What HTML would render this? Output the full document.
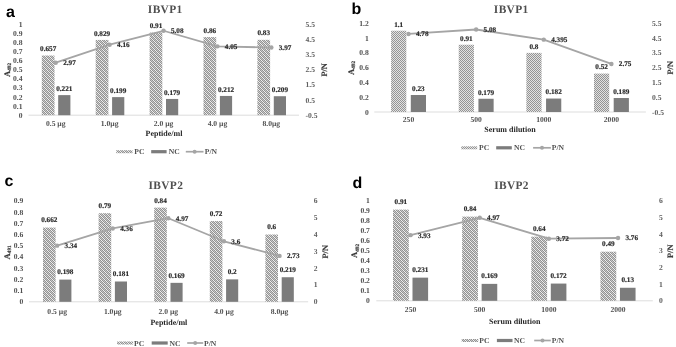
<!DOCTYPE html>
<html><head><meta charset="utf-8"><style>
html,body{margin:0;padding:0;background:#fff;width:676px;height:347px;overflow:hidden}
svg{display:block}
</style></head><body>
<svg width="676" height="347" viewBox="0 0 676 347" font-family="Liberation Serif" text-rendering="geometricPrecision">
<defs>
<pattern id="hatch" patternUnits="userSpaceOnUse" width="4" height="4"><rect x="0" y="0" width="1" height="1" fill="#939393"/><rect x="1" y="0" width="1" height="1" fill="#f0f0f0"/><rect x="2" y="0" width="1" height="1" fill="#939393"/><rect x="3" y="0" width="1" height="1" fill="#c8c8c8"/><rect x="0" y="1" width="1" height="1" fill="#c8c8c8"/><rect x="1" y="1" width="1" height="1" fill="#939393"/><rect x="2" y="1" width="1" height="1" fill="#f0f0f0"/><rect x="3" y="1" width="1" height="1" fill="#939393"/><rect x="0" y="2" width="1" height="1" fill="#939393"/><rect x="1" y="2" width="1" height="1" fill="#c8c8c8"/><rect x="2" y="2" width="1" height="1" fill="#939393"/><rect x="3" y="2" width="1" height="1" fill="#f0f0f0"/><rect x="0" y="3" width="1" height="1" fill="#f0f0f0"/><rect x="1" y="3" width="1" height="1" fill="#939393"/><rect x="2" y="3" width="1" height="1" fill="#c8c8c8"/><rect x="3" y="3" width="1" height="1" fill="#939393"/></pattern>
<filter id="soft" filterUnits="userSpaceOnUse" x="0" y="0" width="676" height="347"><feGaussianBlur stdDeviation="0.4"/></filter>
<pattern id="hatchT" patternUnits="userSpaceOnUse" width="2" height="2"><rect width="2" height="2" fill="#e2e2e2"/><rect x="0" y="0" width="1" height="1" fill="#949494"/><rect x="1" y="1" width="1" height="1" fill="#949494"/></pattern>
</defs>
<rect width="676" height="347" fill="#fff"/>
<g filter="url(#soft)">
<line x1="28.5" y1="115.20" x2="299" y2="115.20" stroke="#d9d9d9" stroke-width="0.9"/>
<text x="22.50" y="117.71" font-size="7.6" text-anchor="end" font-weight="bold" fill="#505050" font-family="Liberation Serif" >0</text>
<text x="22.50" y="108.63" font-size="7.6" text-anchor="end" font-weight="bold" fill="#505050" font-family="Liberation Serif" >0.1</text>
<text x="22.50" y="99.55" font-size="7.6" text-anchor="end" font-weight="bold" fill="#505050" font-family="Liberation Serif" >0.2</text>
<text x="22.50" y="90.47" font-size="7.6" text-anchor="end" font-weight="bold" fill="#505050" font-family="Liberation Serif" >0.3</text>
<text x="22.50" y="81.39" font-size="7.6" text-anchor="end" font-weight="bold" fill="#505050" font-family="Liberation Serif" >0.4</text>
<text x="22.50" y="72.31" font-size="7.6" text-anchor="end" font-weight="bold" fill="#505050" font-family="Liberation Serif" >0.5</text>
<text x="22.50" y="63.23" font-size="7.6" text-anchor="end" font-weight="bold" fill="#505050" font-family="Liberation Serif" >0.6</text>
<text x="22.50" y="54.15" font-size="7.6" text-anchor="end" font-weight="bold" fill="#505050" font-family="Liberation Serif" >0.7</text>
<text x="22.50" y="45.07" font-size="7.6" text-anchor="end" font-weight="bold" fill="#505050" font-family="Liberation Serif" >0.8</text>
<text x="22.50" y="35.99" font-size="7.6" text-anchor="end" font-weight="bold" fill="#505050" font-family="Liberation Serif" >0.9</text>
<text x="22.50" y="26.91" font-size="7.6" text-anchor="end" font-weight="bold" fill="#505050" font-family="Liberation Serif" >1</text>
<text x="305.50" y="117.71" font-size="7.6" text-anchor="start" font-weight="bold" fill="#606060" font-family="Liberation Serif" >-0.5</text>
<text x="305.50" y="102.57" font-size="7.6" text-anchor="start" font-weight="bold" fill="#606060" font-family="Liberation Serif" >0.5</text>
<text x="305.50" y="87.44" font-size="7.6" text-anchor="start" font-weight="bold" fill="#606060" font-family="Liberation Serif" >1.5</text>
<text x="305.50" y="72.31" font-size="7.6" text-anchor="start" font-weight="bold" fill="#606060" font-family="Liberation Serif" >2.5</text>
<text x="305.50" y="57.17" font-size="7.6" text-anchor="start" font-weight="bold" fill="#606060" font-family="Liberation Serif" >3.5</text>
<text x="305.50" y="42.04" font-size="7.6" text-anchor="start" font-weight="bold" fill="#606060" font-family="Liberation Serif" >4.5</text>
<text x="305.50" y="26.91" font-size="7.6" text-anchor="start" font-weight="bold" fill="#606060" font-family="Liberation Serif" >5.5</text>
<rect x="41.80" y="55.54" width="12.7" height="59.66" fill="url(#hatch)"/>
<rect x="58.20" y="95.13" width="12.2" height="20.07" fill="#7b7b7b"/>
<text x="48.15" y="51.12" font-size="7.2" text-anchor="middle" font-weight="bold" fill="#2b2b2b" font-family="Liberation Serif" stroke="#2b2b2b" stroke-width="0.18">0.657</text>
<text x="64.30" y="90.71" font-size="7.2" text-anchor="middle" font-weight="bold" fill="#2b2b2b" font-family="Liberation Serif" stroke="#2b2b2b" stroke-width="0.18">0.221</text>
<text x="55.75" y="126.01" font-size="7.6" text-anchor="middle" font-weight="bold" fill="#505050" font-family="Liberation Serif" >0.5 µg</text>
<rect x="95.70" y="39.93" width="12.7" height="75.27" fill="url(#hatch)"/>
<rect x="112.10" y="97.13" width="12.2" height="18.07" fill="#7b7b7b"/>
<text x="102.05" y="35.50" font-size="7.2" text-anchor="middle" font-weight="bold" fill="#2b2b2b" font-family="Liberation Serif" stroke="#2b2b2b" stroke-width="0.18">0.829</text>
<text x="118.20" y="92.71" font-size="7.2" text-anchor="middle" font-weight="bold" fill="#2b2b2b" font-family="Liberation Serif" stroke="#2b2b2b" stroke-width="0.18">0.199</text>
<text x="109.65" y="126.01" font-size="7.6" text-anchor="middle" font-weight="bold" fill="#505050" font-family="Liberation Serif" >1.0µg</text>
<rect x="149.60" y="32.57" width="12.7" height="82.63" fill="url(#hatch)"/>
<rect x="166.00" y="98.95" width="12.2" height="16.25" fill="#7b7b7b"/>
<text x="155.95" y="28.15" font-size="7.2" text-anchor="middle" font-weight="bold" fill="#2b2b2b" font-family="Liberation Serif" stroke="#2b2b2b" stroke-width="0.18">0.91</text>
<text x="172.10" y="94.52" font-size="7.2" text-anchor="middle" font-weight="bold" fill="#2b2b2b" font-family="Liberation Serif" stroke="#2b2b2b" stroke-width="0.18">0.179</text>
<text x="163.55" y="126.01" font-size="7.6" text-anchor="middle" font-weight="bold" fill="#505050" font-family="Liberation Serif" >2.0 µg</text>
<rect x="203.50" y="37.11" width="12.7" height="78.09" fill="url(#hatch)"/>
<rect x="219.90" y="95.95" width="12.2" height="19.25" fill="#7b7b7b"/>
<text x="209.85" y="32.69" font-size="7.2" text-anchor="middle" font-weight="bold" fill="#2b2b2b" font-family="Liberation Serif" stroke="#2b2b2b" stroke-width="0.18">0.86</text>
<text x="226.00" y="91.53" font-size="7.2" text-anchor="middle" font-weight="bold" fill="#2b2b2b" font-family="Liberation Serif" stroke="#2b2b2b" stroke-width="0.18">0.212</text>
<text x="217.45" y="126.01" font-size="7.6" text-anchor="middle" font-weight="bold" fill="#505050" font-family="Liberation Serif" >4.0 µg</text>
<rect x="257.40" y="39.84" width="12.7" height="75.36" fill="url(#hatch)"/>
<rect x="273.80" y="96.22" width="12.2" height="18.98" fill="#7b7b7b"/>
<text x="263.75" y="35.41" font-size="7.2" text-anchor="middle" font-weight="bold" fill="#2b2b2b" font-family="Liberation Serif" stroke="#2b2b2b" stroke-width="0.18">0.83</text>
<text x="279.90" y="91.80" font-size="7.2" text-anchor="middle" font-weight="bold" fill="#2b2b2b" font-family="Liberation Serif" stroke="#2b2b2b" stroke-width="0.18">0.209</text>
<text x="271.35" y="126.01" font-size="7.6" text-anchor="middle" font-weight="bold" fill="#505050" font-family="Liberation Serif" >8.0µg</text>
<polyline points="55.75,62.69 109.65,44.68 163.55,30.76 217.45,46.34 271.35,47.55" fill="none" stroke="#a5a5a5" stroke-width="1.8" stroke-linejoin="round"/>
<circle cx="55.75" cy="62.69" r="2.2" fill="#a5a5a5"/>
<text x="63.15" y="65.06" font-size="7.2" text-anchor="start" font-weight="bold" fill="#2b2b2b" font-family="Liberation Serif" stroke="#2b2b2b" stroke-width="0.18">2.97</text>
<circle cx="109.65" cy="44.68" r="2.2" fill="#a5a5a5"/>
<text x="117.05" y="47.05" font-size="7.2" text-anchor="start" font-weight="bold" fill="#2b2b2b" font-family="Liberation Serif" stroke="#2b2b2b" stroke-width="0.18">4.16</text>
<circle cx="163.55" cy="30.76" r="2.2" fill="#a5a5a5"/>
<text x="170.95" y="33.13" font-size="7.2" text-anchor="start" font-weight="bold" fill="#2b2b2b" font-family="Liberation Serif" stroke="#2b2b2b" stroke-width="0.18">5.08</text>
<circle cx="217.45" cy="46.34" r="2.2" fill="#a5a5a5"/>
<text x="224.85" y="48.72" font-size="7.2" text-anchor="start" font-weight="bold" fill="#2b2b2b" font-family="Liberation Serif" stroke="#2b2b2b" stroke-width="0.18">4.05</text>
<circle cx="271.35" cy="47.55" r="2.2" fill="#a5a5a5"/>
<text x="278.75" y="49.93" font-size="7.2" text-anchor="start" font-weight="bold" fill="#2b2b2b" font-family="Liberation Serif" stroke="#2b2b2b" stroke-width="0.18">3.97</text>
<text x="165.2" y="13.1" font-size="11.4" text-anchor="middle" font-weight="bold" fill="#505050" letter-spacing="0.35" font-family="Liberation Serif">IBVP1</text>
<text x="6" y="16.7" font-size="16" font-weight="bold" fill="#000" font-family="Liberation Sans">a</text>
<g transform="translate(7,70) rotate(-90)"><text x="0" y="2.8" font-size="8.6" font-weight="bold" fill="#3c3c3c" stroke="#3c3c3c" stroke-width="0.2" text-anchor="middle" font-family="Liberation Serif">A<tspan font-size="5.2" dy="1.2">492</tspan></text></g>
<g transform="translate(324.4,69.9) rotate(-90)"><text x="0" y="2.9" font-size="8.3" font-weight="bold" fill="#3c3c3c" stroke="#3c3c3c" stroke-width="0.15" text-anchor="middle" font-family="Liberation Serif">P/N</text></g>
<text x="164.00" y="135.64" font-size="8.0" text-anchor="middle" font-weight="bold" fill="#262626" font-family="Liberation Serif" >Peptide/ml</text>
<rect x="116.2" y="150.20" width="16.30" height="3" fill="url(#hatch)"/>
<text x="134.30" y="154.21" font-size="7.6" text-anchor="start" font-weight="bold" fill="#505050" font-family="Liberation Serif" >PC</text>
<rect x="151.2" y="150.10" width="15.40" height="3.2" fill="#7b7b7b"/>
<text x="168.80" y="154.21" font-size="7.6" text-anchor="start" font-weight="bold" fill="#505050" font-family="Liberation Serif" >NC</text>
<line x1="185.8" y1="151.70" x2="203.5" y2="151.70" stroke="#a5a5a5" stroke-width="1.7"/>
<circle cx="194.65" cy="151.70" r="2" fill="#a5a5a5"/>
<text x="204.80" y="154.21" font-size="7.6" text-anchor="start" font-weight="bold" fill="#505050" font-family="Liberation Serif" >P/N</text>
<line x1="374.3" y1="112.00" x2="645.9" y2="112.00" stroke="#d9d9d9" stroke-width="0.9"/>
<text x="368.70" y="114.51" font-size="7.6" text-anchor="end" font-weight="bold" fill="#505050" font-family="Liberation Serif" >0</text>
<text x="368.70" y="99.73" font-size="7.6" text-anchor="end" font-weight="bold" fill="#505050" font-family="Liberation Serif" >0.2</text>
<text x="368.70" y="84.95" font-size="7.6" text-anchor="end" font-weight="bold" fill="#505050" font-family="Liberation Serif" >0.4</text>
<text x="368.70" y="70.17" font-size="7.6" text-anchor="end" font-weight="bold" fill="#505050" font-family="Liberation Serif" >0.6</text>
<text x="368.70" y="55.39" font-size="7.6" text-anchor="end" font-weight="bold" fill="#505050" font-family="Liberation Serif" >0.8</text>
<text x="368.70" y="40.61" font-size="7.6" text-anchor="end" font-weight="bold" fill="#505050" font-family="Liberation Serif" >1</text>
<text x="368.70" y="25.83" font-size="7.6" text-anchor="end" font-weight="bold" fill="#505050" font-family="Liberation Serif" >1.2</text>
<text x="652.00" y="114.51" font-size="7.6" text-anchor="start" font-weight="bold" fill="#606060" font-family="Liberation Serif" >-0.5</text>
<text x="652.00" y="99.72" font-size="7.6" text-anchor="start" font-weight="bold" fill="#606060" font-family="Liberation Serif" >0.5</text>
<text x="652.00" y="84.94" font-size="7.6" text-anchor="start" font-weight="bold" fill="#606060" font-family="Liberation Serif" >1.5</text>
<text x="652.00" y="70.16" font-size="7.6" text-anchor="start" font-weight="bold" fill="#606060" font-family="Liberation Serif" >2.5</text>
<text x="652.00" y="55.37" font-size="7.6" text-anchor="start" font-weight="bold" fill="#606060" font-family="Liberation Serif" >3.5</text>
<text x="652.00" y="40.59" font-size="7.6" text-anchor="start" font-weight="bold" fill="#606060" font-family="Liberation Serif" >4.5</text>
<text x="652.00" y="25.81" font-size="7.6" text-anchor="start" font-weight="bold" fill="#606060" font-family="Liberation Serif" >5.5</text>
<rect x="391.10" y="30.71" width="15.2" height="81.29" fill="url(#hatchT)"/>
<rect x="410.80" y="95.00" width="15.2" height="17.00" fill="#7b7b7b"/>
<text x="398.70" y="26.59" font-size="7.2" text-anchor="middle" font-weight="bold" fill="#2b2b2b" font-family="Liberation Serif" stroke="#2b2b2b" stroke-width="0.18">1.1</text>
<text x="418.40" y="90.88" font-size="7.2" text-anchor="middle" font-weight="bold" fill="#2b2b2b" font-family="Liberation Serif" stroke="#2b2b2b" stroke-width="0.18">0.23</text>
<text x="408.51" y="122.01" font-size="7.6" text-anchor="middle" font-weight="bold" fill="#505050" font-family="Liberation Serif" >250</text>
<rect x="458.73" y="44.75" width="15.2" height="67.25" fill="url(#hatchT)"/>
<rect x="478.43" y="98.77" width="15.2" height="13.23" fill="#7b7b7b"/>
<text x="466.33" y="40.63" font-size="7.2" text-anchor="middle" font-weight="bold" fill="#2b2b2b" font-family="Liberation Serif" stroke="#2b2b2b" stroke-width="0.18">0.91</text>
<text x="486.03" y="94.65" font-size="7.2" text-anchor="middle" font-weight="bold" fill="#2b2b2b" font-family="Liberation Serif" stroke="#2b2b2b" stroke-width="0.18">0.179</text>
<text x="476.14" y="122.01" font-size="7.6" text-anchor="middle" font-weight="bold" fill="#505050" font-family="Liberation Serif" >500</text>
<rect x="526.36" y="52.88" width="15.2" height="59.12" fill="url(#hatchT)"/>
<rect x="546.06" y="98.55" width="15.2" height="13.45" fill="#7b7b7b"/>
<text x="533.96" y="48.76" font-size="7.2" text-anchor="middle" font-weight="bold" fill="#2b2b2b" font-family="Liberation Serif" stroke="#2b2b2b" stroke-width="0.18">0.8</text>
<text x="553.66" y="94.43" font-size="7.2" text-anchor="middle" font-weight="bold" fill="#2b2b2b" font-family="Liberation Serif" stroke="#2b2b2b" stroke-width="0.18">0.182</text>
<text x="543.77" y="122.01" font-size="7.6" text-anchor="middle" font-weight="bold" fill="#505050" font-family="Liberation Serif" >1000</text>
<rect x="593.99" y="73.57" width="15.2" height="38.43" fill="url(#hatchT)"/>
<rect x="613.69" y="98.03" width="15.2" height="13.97" fill="#7b7b7b"/>
<text x="601.59" y="69.45" font-size="7.2" text-anchor="middle" font-weight="bold" fill="#2b2b2b" font-family="Liberation Serif" stroke="#2b2b2b" stroke-width="0.18">0.52</text>
<text x="621.29" y="93.91" font-size="7.2" text-anchor="middle" font-weight="bold" fill="#2b2b2b" font-family="Liberation Serif" stroke="#2b2b2b" stroke-width="0.18">0.189</text>
<text x="611.40" y="122.01" font-size="7.6" text-anchor="middle" font-weight="bold" fill="#505050" font-family="Liberation Serif" >2000</text>
<polyline points="408.51,33.94 476.14,29.51 543.77,39.64 611.40,63.95" fill="none" stroke="#a5a5a5" stroke-width="1.8" stroke-linejoin="round"/>
<circle cx="408.51" cy="33.94" r="2.2" fill="#a5a5a5"/>
<text x="415.91" y="36.32" font-size="7.2" text-anchor="start" font-weight="bold" fill="#2b2b2b" font-family="Liberation Serif" stroke="#2b2b2b" stroke-width="0.18">4.78</text>
<circle cx="476.14" cy="29.51" r="2.2" fill="#a5a5a5"/>
<text x="483.54" y="31.89" font-size="7.2" text-anchor="start" font-weight="bold" fill="#2b2b2b" font-family="Liberation Serif" stroke="#2b2b2b" stroke-width="0.18">5.08</text>
<circle cx="543.77" cy="39.64" r="2.2" fill="#a5a5a5"/>
<text x="551.17" y="42.01" font-size="7.2" text-anchor="start" font-weight="bold" fill="#2b2b2b" font-family="Liberation Serif" stroke="#2b2b2b" stroke-width="0.18">4.395</text>
<circle cx="611.40" cy="63.95" r="2.2" fill="#a5a5a5"/>
<text x="618.80" y="66.33" font-size="7.2" text-anchor="start" font-weight="bold" fill="#2b2b2b" font-family="Liberation Serif" stroke="#2b2b2b" stroke-width="0.18">2.75</text>
<text x="511.2" y="12.9" font-size="11.4" text-anchor="middle" font-weight="bold" fill="#505050" letter-spacing="0.35" font-family="Liberation Serif">IBVP1</text>
<text x="351.5" y="14.1" font-size="16" font-weight="bold" fill="#000" font-family="Liberation Sans">b</text>
<g transform="translate(351.4,68.0) rotate(-90)"><text x="0" y="2.8" font-size="8.6" font-weight="bold" fill="#3c3c3c" stroke="#3c3c3c" stroke-width="0.2" text-anchor="middle" font-family="Liberation Serif">A<tspan font-size="5.2" dy="1.2">492</tspan></text></g>
<g transform="translate(670.4,67.8) rotate(-90)"><text x="0" y="2.9" font-size="8.3" font-weight="bold" fill="#3c3c3c" stroke="#3c3c3c" stroke-width="0.15" text-anchor="middle" font-family="Liberation Serif">P/N</text></g>
<text x="510.00" y="131.64" font-size="8.0" text-anchor="middle" font-weight="bold" fill="#262626" font-family="Liberation Serif" >Serum dilution</text>
<rect x="461.2" y="146.30" width="16.00" height="3" fill="url(#hatchT)"/>
<text x="479.00" y="150.31" font-size="7.6" text-anchor="start" font-weight="bold" fill="#505050" font-family="Liberation Serif" >PC</text>
<rect x="496.2" y="146.20" width="15.60" height="3.2" fill="#7b7b7b"/>
<text x="514.10" y="150.31" font-size="7.6" text-anchor="start" font-weight="bold" fill="#505050" font-family="Liberation Serif" >NC</text>
<line x1="533.1" y1="147.80" x2="550.9" y2="147.80" stroke="#a5a5a5" stroke-width="1.7"/>
<circle cx="542.00" cy="147.80" r="2" fill="#a5a5a5"/>
<text x="551.80" y="150.31" font-size="7.6" text-anchor="start" font-weight="bold" fill="#505050" font-family="Liberation Serif" >P/N</text>
<line x1="29" y1="301.80" x2="308.1" y2="301.80" stroke="#d9d9d9" stroke-width="0.9"/>
<text x="23.30" y="304.31" font-size="7.6" text-anchor="end" font-weight="bold" fill="#505050" font-family="Liberation Serif" >0</text>
<text x="23.30" y="293.10" font-size="7.6" text-anchor="end" font-weight="bold" fill="#505050" font-family="Liberation Serif" >0.1</text>
<text x="23.30" y="281.89" font-size="7.6" text-anchor="end" font-weight="bold" fill="#505050" font-family="Liberation Serif" >0.2</text>
<text x="23.30" y="270.67" font-size="7.6" text-anchor="end" font-weight="bold" fill="#505050" font-family="Liberation Serif" >0.3</text>
<text x="23.30" y="259.46" font-size="7.6" text-anchor="end" font-weight="bold" fill="#505050" font-family="Liberation Serif" >0.4</text>
<text x="23.30" y="248.25" font-size="7.6" text-anchor="end" font-weight="bold" fill="#505050" font-family="Liberation Serif" >0.5</text>
<text x="23.30" y="237.04" font-size="7.6" text-anchor="end" font-weight="bold" fill="#505050" font-family="Liberation Serif" >0.6</text>
<text x="23.30" y="225.83" font-size="7.6" text-anchor="end" font-weight="bold" fill="#505050" font-family="Liberation Serif" >0.7</text>
<text x="23.30" y="214.62" font-size="7.6" text-anchor="end" font-weight="bold" fill="#505050" font-family="Liberation Serif" >0.8</text>
<text x="23.30" y="203.41" font-size="7.6" text-anchor="end" font-weight="bold" fill="#505050" font-family="Liberation Serif" >0.9</text>
<text x="313.80" y="304.31" font-size="7.6" text-anchor="start" font-weight="bold" fill="#606060" font-family="Liberation Serif" >0</text>
<text x="313.80" y="287.49" font-size="7.6" text-anchor="start" font-weight="bold" fill="#606060" font-family="Liberation Serif" >1</text>
<text x="313.80" y="270.67" font-size="7.6" text-anchor="start" font-weight="bold" fill="#606060" font-family="Liberation Serif" >2</text>
<text x="313.80" y="253.86" font-size="7.6" text-anchor="start" font-weight="bold" fill="#606060" font-family="Liberation Serif" >3</text>
<text x="313.80" y="237.04" font-size="7.6" text-anchor="start" font-weight="bold" fill="#606060" font-family="Liberation Serif" >4</text>
<text x="313.80" y="220.22" font-size="7.6" text-anchor="start" font-weight="bold" fill="#606060" font-family="Liberation Serif" >5</text>
<text x="313.80" y="203.41" font-size="7.6" text-anchor="start" font-weight="bold" fill="#606060" font-family="Liberation Serif" >6</text>
<rect x="43.00" y="227.58" width="12.6" height="74.22" fill="url(#hatch)"/>
<rect x="59.30" y="279.60" width="12.1" height="22.20" fill="#7b7b7b"/>
<text x="49.30" y="222.46" font-size="7.2" text-anchor="middle" font-weight="bold" fill="#2b2b2b" font-family="Liberation Serif" stroke="#2b2b2b" stroke-width="0.18">0.662</text>
<text x="65.35" y="274.48" font-size="7.2" text-anchor="middle" font-weight="bold" fill="#2b2b2b" font-family="Liberation Serif" stroke="#2b2b2b" stroke-width="0.18">0.198</text>
<text x="57.15" y="314.31" font-size="7.6" text-anchor="middle" font-weight="bold" fill="#505050" font-family="Liberation Serif" >0.5 µg</text>
<rect x="98.60" y="213.23" width="12.6" height="88.57" fill="url(#hatch)"/>
<rect x="114.90" y="281.51" width="12.1" height="20.29" fill="#7b7b7b"/>
<text x="104.90" y="208.11" font-size="7.2" text-anchor="middle" font-weight="bold" fill="#2b2b2b" font-family="Liberation Serif" stroke="#2b2b2b" stroke-width="0.18">0.79</text>
<text x="120.95" y="276.38" font-size="7.2" text-anchor="middle" font-weight="bold" fill="#2b2b2b" font-family="Liberation Serif" stroke="#2b2b2b" stroke-width="0.18">0.181</text>
<text x="112.75" y="314.31" font-size="7.6" text-anchor="middle" font-weight="bold" fill="#505050" font-family="Liberation Serif" >1.0µg</text>
<rect x="154.20" y="207.63" width="12.6" height="94.17" fill="url(#hatch)"/>
<rect x="170.50" y="282.85" width="12.1" height="18.95" fill="#7b7b7b"/>
<text x="160.50" y="202.50" font-size="7.2" text-anchor="middle" font-weight="bold" fill="#2b2b2b" font-family="Liberation Serif" stroke="#2b2b2b" stroke-width="0.18">0.84</text>
<text x="176.55" y="277.73" font-size="7.2" text-anchor="middle" font-weight="bold" fill="#2b2b2b" font-family="Liberation Serif" stroke="#2b2b2b" stroke-width="0.18">0.169</text>
<text x="168.35" y="314.31" font-size="7.6" text-anchor="middle" font-weight="bold" fill="#505050" font-family="Liberation Serif" >2.0 µg</text>
<rect x="209.80" y="221.08" width="12.6" height="80.72" fill="url(#hatch)"/>
<rect x="226.10" y="279.38" width="12.1" height="22.42" fill="#7b7b7b"/>
<text x="216.10" y="215.96" font-size="7.2" text-anchor="middle" font-weight="bold" fill="#2b2b2b" font-family="Liberation Serif" stroke="#2b2b2b" stroke-width="0.18">0.72</text>
<text x="232.15" y="274.25" font-size="7.2" text-anchor="middle" font-weight="bold" fill="#2b2b2b" font-family="Liberation Serif" stroke="#2b2b2b" stroke-width="0.18">0.2</text>
<text x="223.95" y="314.31" font-size="7.6" text-anchor="middle" font-weight="bold" fill="#505050" font-family="Liberation Serif" >4.0 µg</text>
<rect x="265.40" y="234.53" width="12.6" height="67.27" fill="url(#hatch)"/>
<rect x="281.70" y="277.25" width="12.1" height="24.55" fill="#7b7b7b"/>
<text x="271.70" y="229.41" font-size="7.2" text-anchor="middle" font-weight="bold" fill="#2b2b2b" font-family="Liberation Serif" stroke="#2b2b2b" stroke-width="0.18">0.6</text>
<text x="287.75" y="272.12" font-size="7.2" text-anchor="middle" font-weight="bold" fill="#2b2b2b" font-family="Liberation Serif" stroke="#2b2b2b" stroke-width="0.18">0.219</text>
<text x="279.55" y="314.31" font-size="7.6" text-anchor="middle" font-weight="bold" fill="#505050" font-family="Liberation Serif" >8.0µg</text>
<polyline points="57.15,245.63 112.75,228.48 168.35,218.22 223.95,241.26 279.55,255.89" fill="none" stroke="#a5a5a5" stroke-width="1.8" stroke-linejoin="round"/>
<circle cx="57.15" cy="245.63" r="2.2" fill="#a5a5a5"/>
<text x="64.55" y="248.01" font-size="7.2" text-anchor="start" font-weight="bold" fill="#2b2b2b" font-family="Liberation Serif" stroke="#2b2b2b" stroke-width="0.18">3.34</text>
<circle cx="112.75" cy="228.48" r="2.2" fill="#a5a5a5"/>
<text x="120.15" y="230.86" font-size="7.2" text-anchor="start" font-weight="bold" fill="#2b2b2b" font-family="Liberation Serif" stroke="#2b2b2b" stroke-width="0.18">4.36</text>
<circle cx="168.35" cy="218.22" r="2.2" fill="#a5a5a5"/>
<text x="175.75" y="220.60" font-size="7.2" text-anchor="start" font-weight="bold" fill="#2b2b2b" font-family="Liberation Serif" stroke="#2b2b2b" stroke-width="0.18">4.97</text>
<circle cx="223.95" cy="241.26" r="2.2" fill="#a5a5a5"/>
<text x="231.35" y="243.64" font-size="7.2" text-anchor="start" font-weight="bold" fill="#2b2b2b" font-family="Liberation Serif" stroke="#2b2b2b" stroke-width="0.18">3.6</text>
<circle cx="279.55" cy="255.89" r="2.2" fill="#a5a5a5"/>
<text x="286.95" y="258.27" font-size="7.2" text-anchor="start" font-weight="bold" fill="#2b2b2b" font-family="Liberation Serif" stroke="#2b2b2b" stroke-width="0.18">2.73</text>
<text x="165.9" y="188.9" font-size="11.4" text-anchor="middle" font-weight="bold" fill="#505050" letter-spacing="0.35" font-family="Liberation Serif">IBVP2</text>
<text x="4.6" y="185.5" font-size="16" font-weight="bold" fill="#000" font-family="Liberation Sans">c</text>
<g transform="translate(6.7,252.4) rotate(-90)"><text x="0" y="2.8" font-size="8.6" font-weight="bold" fill="#3c3c3c" stroke="#3c3c3c" stroke-width="0.2" text-anchor="middle" font-family="Liberation Serif">A<tspan font-size="5.2" dy="1.2">491</tspan></text></g>
<g transform="translate(325,251.8) rotate(-90)"><text x="0" y="2.9" font-size="8.3" font-weight="bold" fill="#3c3c3c" stroke="#3c3c3c" stroke-width="0.15" text-anchor="middle" font-family="Liberation Serif">P/N</text></g>
<text x="168.90" y="324.84" font-size="8.0" text-anchor="middle" font-weight="bold" fill="#262626" font-family="Liberation Serif" >Peptide/ml</text>
<rect x="117.1" y="341.50" width="16.00" height="3" fill="url(#hatch)"/>
<text x="134.00" y="345.51" font-size="7.6" text-anchor="start" font-weight="bold" fill="#505050" font-family="Liberation Serif" >PC</text>
<rect x="151.7" y="341.40" width="16.00" height="3.2" fill="#7b7b7b"/>
<text x="169.50" y="345.51" font-size="7.6" text-anchor="start" font-weight="bold" fill="#505050" font-family="Liberation Serif" >NC</text>
<line x1="187.2" y1="343.00" x2="203.2" y2="343.00" stroke="#a5a5a5" stroke-width="1.7"/>
<circle cx="195.20" cy="343.00" r="2" fill="#a5a5a5"/>
<text x="204.10" y="345.51" font-size="7.6" text-anchor="start" font-weight="bold" fill="#505050" font-family="Liberation Serif" >P/N</text>
<line x1="376.3" y1="300.80" x2="652.8" y2="300.80" stroke="#d9d9d9" stroke-width="0.9"/>
<text x="369.90" y="303.31" font-size="7.6" text-anchor="end" font-weight="bold" fill="#505050" font-family="Liberation Serif" >0</text>
<text x="369.90" y="293.29" font-size="7.6" text-anchor="end" font-weight="bold" fill="#505050" font-family="Liberation Serif" >0.1</text>
<text x="369.90" y="283.27" font-size="7.6" text-anchor="end" font-weight="bold" fill="#505050" font-family="Liberation Serif" >0.2</text>
<text x="369.90" y="273.25" font-size="7.6" text-anchor="end" font-weight="bold" fill="#505050" font-family="Liberation Serif" >0.3</text>
<text x="369.90" y="263.23" font-size="7.6" text-anchor="end" font-weight="bold" fill="#505050" font-family="Liberation Serif" >0.4</text>
<text x="369.90" y="253.21" font-size="7.6" text-anchor="end" font-weight="bold" fill="#505050" font-family="Liberation Serif" >0.5</text>
<text x="369.90" y="243.19" font-size="7.6" text-anchor="end" font-weight="bold" fill="#505050" font-family="Liberation Serif" >0.6</text>
<text x="369.90" y="233.17" font-size="7.6" text-anchor="end" font-weight="bold" fill="#505050" font-family="Liberation Serif" >0.7</text>
<text x="369.90" y="223.15" font-size="7.6" text-anchor="end" font-weight="bold" fill="#505050" font-family="Liberation Serif" >0.8</text>
<text x="369.90" y="213.13" font-size="7.6" text-anchor="end" font-weight="bold" fill="#505050" font-family="Liberation Serif" >0.9</text>
<text x="369.90" y="203.11" font-size="7.6" text-anchor="end" font-weight="bold" fill="#505050" font-family="Liberation Serif" >1</text>
<text x="658.90" y="303.31" font-size="7.6" text-anchor="start" font-weight="bold" fill="#606060" font-family="Liberation Serif" >0</text>
<text x="658.90" y="286.61" font-size="7.6" text-anchor="start" font-weight="bold" fill="#606060" font-family="Liberation Serif" >1</text>
<text x="658.90" y="269.91" font-size="7.6" text-anchor="start" font-weight="bold" fill="#606060" font-family="Liberation Serif" >2</text>
<text x="658.90" y="253.21" font-size="7.6" text-anchor="start" font-weight="bold" fill="#606060" font-family="Liberation Serif" >3</text>
<text x="658.90" y="236.51" font-size="7.6" text-anchor="start" font-weight="bold" fill="#606060" font-family="Liberation Serif" >4</text>
<text x="658.90" y="219.81" font-size="7.6" text-anchor="start" font-weight="bold" fill="#606060" font-family="Liberation Serif" >5</text>
<text x="658.90" y="203.11" font-size="7.6" text-anchor="start" font-weight="bold" fill="#606060" font-family="Liberation Serif" >6</text>
<rect x="393.00" y="209.62" width="15.8" height="91.18" fill="url(#hatch)"/>
<rect x="412.50" y="277.65" width="15.6" height="23.15" fill="#7b7b7b"/>
<text x="400.90" y="203.99" font-size="7.2" text-anchor="middle" font-weight="bold" fill="#2b2b2b" font-family="Liberation Serif" stroke="#2b2b2b" stroke-width="0.18">0.91</text>
<text x="420.30" y="272.03" font-size="7.2" text-anchor="middle" font-weight="bold" fill="#2b2b2b" font-family="Liberation Serif" stroke="#2b2b2b" stroke-width="0.18">0.231</text>
<text x="410.57" y="312.41" font-size="7.6" text-anchor="middle" font-weight="bold" fill="#505050" font-family="Liberation Serif" >250</text>
<rect x="462.15" y="216.63" width="15.8" height="84.17" fill="url(#hatch)"/>
<rect x="481.65" y="283.87" width="15.6" height="16.93" fill="#7b7b7b"/>
<text x="470.05" y="211.01" font-size="7.2" text-anchor="middle" font-weight="bold" fill="#2b2b2b" font-family="Liberation Serif" stroke="#2b2b2b" stroke-width="0.18">0.84</text>
<text x="489.45" y="278.24" font-size="7.2" text-anchor="middle" font-weight="bold" fill="#2b2b2b" font-family="Liberation Serif" stroke="#2b2b2b" stroke-width="0.18">0.169</text>
<text x="479.72" y="312.41" font-size="7.6" text-anchor="middle" font-weight="bold" fill="#505050" font-family="Liberation Serif" >500</text>
<rect x="531.30" y="236.67" width="15.8" height="64.13" fill="url(#hatch)"/>
<rect x="550.80" y="283.57" width="15.6" height="17.23" fill="#7b7b7b"/>
<text x="539.20" y="231.05" font-size="7.2" text-anchor="middle" font-weight="bold" fill="#2b2b2b" font-family="Liberation Serif" stroke="#2b2b2b" stroke-width="0.18">0.64</text>
<text x="558.60" y="277.94" font-size="7.2" text-anchor="middle" font-weight="bold" fill="#2b2b2b" font-family="Liberation Serif" stroke="#2b2b2b" stroke-width="0.18">0.172</text>
<text x="548.88" y="312.41" font-size="7.6" text-anchor="middle" font-weight="bold" fill="#505050" font-family="Liberation Serif" >1000</text>
<rect x="600.45" y="251.70" width="15.8" height="49.10" fill="url(#hatch)"/>
<rect x="619.95" y="287.77" width="15.6" height="13.03" fill="#7b7b7b"/>
<text x="608.35" y="246.08" font-size="7.2" text-anchor="middle" font-weight="bold" fill="#2b2b2b" font-family="Liberation Serif" stroke="#2b2b2b" stroke-width="0.18">0.49</text>
<text x="627.75" y="282.15" font-size="7.2" text-anchor="middle" font-weight="bold" fill="#2b2b2b" font-family="Liberation Serif" stroke="#2b2b2b" stroke-width="0.18">0.13</text>
<text x="618.03" y="312.41" font-size="7.6" text-anchor="middle" font-weight="bold" fill="#505050" font-family="Liberation Serif" >2000</text>
<polyline points="410.57,235.17 479.72,217.80 548.88,238.68 618.03,238.01" fill="none" stroke="#a5a5a5" stroke-width="1.8" stroke-linejoin="round"/>
<circle cx="410.57" cy="235.17" r="2.2" fill="#a5a5a5"/>
<text x="417.97" y="237.55" font-size="7.2" text-anchor="start" font-weight="bold" fill="#2b2b2b" font-family="Liberation Serif" stroke="#2b2b2b" stroke-width="0.18">3.93</text>
<circle cx="479.72" cy="217.80" r="2.2" fill="#a5a5a5"/>
<text x="487.12" y="220.18" font-size="7.2" text-anchor="start" font-weight="bold" fill="#2b2b2b" font-family="Liberation Serif" stroke="#2b2b2b" stroke-width="0.18">4.97</text>
<circle cx="548.88" cy="238.68" r="2.2" fill="#a5a5a5"/>
<text x="556.27" y="241.05" font-size="7.2" text-anchor="start" font-weight="bold" fill="#2b2b2b" font-family="Liberation Serif" stroke="#2b2b2b" stroke-width="0.18">3.72</text>
<circle cx="618.03" cy="238.01" r="2.2" fill="#a5a5a5"/>
<text x="625.43" y="240.38" font-size="7.2" text-anchor="start" font-weight="bold" fill="#2b2b2b" font-family="Liberation Serif" stroke="#2b2b2b" stroke-width="0.18">3.76</text>
<text x="511.5" y="188.7" font-size="11.4" text-anchor="middle" font-weight="bold" fill="#505050" letter-spacing="0.35" font-family="Liberation Serif">IBVP2</text>
<text x="352.5" y="187.7" font-size="16" font-weight="bold" fill="#000" font-family="Liberation Sans">d</text>
<g transform="translate(354.5,251) rotate(-90)"><text x="0" y="2.8" font-size="8.6" font-weight="bold" fill="#3c3c3c" stroke="#3c3c3c" stroke-width="0.2" text-anchor="middle" font-family="Liberation Serif">A<tspan font-size="5.2" dy="1.2">492</tspan></text></g>
<g transform="translate(669.7,251.3) rotate(-90)"><text x="0" y="2.9" font-size="8.3" font-weight="bold" fill="#3c3c3c" stroke="#3c3c3c" stroke-width="0.15" text-anchor="middle" font-family="Liberation Serif">P/N</text></g>
<text x="514.70" y="323.54" font-size="8.0" text-anchor="middle" font-weight="bold" fill="#262626" font-family="Liberation Serif" >Serum dilution</text>
<rect x="461.7" y="339.00" width="16.60" height="3" fill="url(#hatch)"/>
<text x="479.30" y="343.01" font-size="7.6" text-anchor="start" font-weight="bold" fill="#505050" font-family="Liberation Serif" >PC</text>
<rect x="496.9" y="338.90" width="15.60" height="3.2" fill="#7b7b7b"/>
<text x="514.10" y="343.01" font-size="7.6" text-anchor="start" font-weight="bold" fill="#505050" font-family="Liberation Serif" >NC</text>
<line x1="534.2" y1="340.50" x2="550.8" y2="340.50" stroke="#a5a5a5" stroke-width="1.7"/>
<circle cx="542.50" cy="340.50" r="2" fill="#a5a5a5"/>
<text x="551.80" y="343.01" font-size="7.6" text-anchor="start" font-weight="bold" fill="#505050" font-family="Liberation Serif" >P/N</text>
</g>
</svg>
</body></html>
